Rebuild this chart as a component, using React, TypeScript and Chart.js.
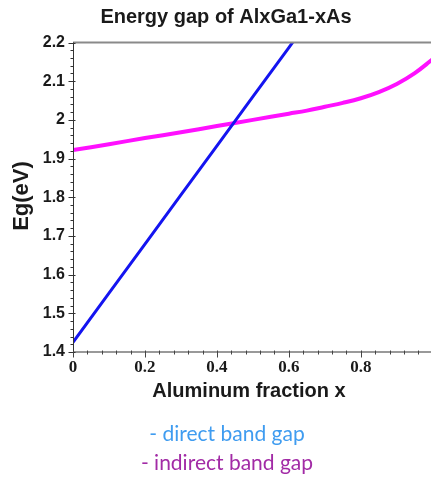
import React, { useEffect, useRef } from 'react';
import { Chart, registerables } from 'chart.js';

Chart.register(...registerables);

const TITLE = 'Energy gap of AlxGa1-xAs';
const X_TITLE = 'Aluminum fraction x';
const Y_TITLE = 'Eg(eV)';
const LEGEND_LABELS = ['- direct band gap', '- indirect band gap'];
const LEGEND_COLORS = ['#3f9cf0', '#a22ba6'];

// Direct band gap (blue)
const directX = [0, 0.1, 0.2, 0.3, 0.4, 0.5, 0.6, 0.7];
const directEg = [1.425, 1.552, 1.679, 1.806, 1.933, 2.06, 2.187, 2.314];

// Indirect band gap (magenta)
const indirectX = [0, 0.1, 0.2, 0.3, 0.4, 0.5, 0.6, 0.65, 0.7, 0.75, 0.8, 0.85, 0.9, 0.95, 1.0];
const indirectEg = [1.922, 1.937, 1.953, 1.968, 1.984, 2.0, 2.016, 2.024, 2.034, 2.044, 2.056, 2.072, 2.093, 2.121, 2.157];

const yTickValues = [1.4, 1.5, 1.6, 1.7, 1.8, 1.9, 2.0, 2.1, 2.2];
const yTickLabels = ['1.4', '1.5', '1.6', '1.7', '1.8', '1.9', '2', '2.1', '2.2'];
const xTickValues = [0, 0.2, 0.4, 0.6, 0.8];
const xTickLabels = ['0', '0.2', '0.4', '0.6', '0.8'];
const yMinorStep = 0.02;
const xMinorStep = 0.04;

const decorPlugin = {
  id: 'decor',
  afterDraw(chart: any) {
    const { ctx, chartArea: a, scales } = chart;
    const x = scales.x;
    const y = scales.y;
    ctx.save();

    // top border
    ctx.strokeStyle = '#8a8a8a';
    ctx.lineWidth = 2;
    ctx.beginPath();
    ctx.moveTo(a.left, a.top);
    ctx.lineTo(a.right, a.top);
    ctx.stroke();

    // x axis
    ctx.strokeStyle = '#777';
    ctx.lineWidth = 1.5;
    ctx.beginPath();
    ctx.moveTo(a.left, a.bottom);
    ctx.lineTo(a.right, a.bottom);
    ctx.stroke();

    // y axis
    ctx.strokeStyle = '#333';
    ctx.lineWidth = 1;
    const ax = Math.round(a.left) + 0.5;
    ctx.beginPath();
    ctx.moveTo(ax, a.top);
    ctx.lineTo(ax, a.bottom);
    ctx.stroke();

    // y minor + major ticks
    const nY = Math.round((y.max - y.min) / yMinorStep);
    for (let i = 0; i <= nY; i++) {
      const v = y.min + i * yMinorStep;
      const py = Math.round(y.getPixelForValue(v)) + 0.5;
      const major = i % 5 === 0;
      ctx.beginPath();
      ctx.moveTo(ax - (major ? 5 : 3), py);
      ctx.lineTo(ax + (major ? 2 : 0), py);
      ctx.stroke();
    }

    // x minor + major ticks
    ctx.strokeStyle = '#444';
    const bx = Math.round(a.bottom) + 0.5;
    const nX = Math.round((x.max - x.min) / xMinorStep);
    for (let i = 0; i <= nX; i++) {
      const v = x.min + i * xMinorStep;
      const px = Math.round(x.getPixelForValue(v)) + 0.5;
      const major = i % 5 === 0;
      ctx.beginPath();
      ctx.moveTo(px, bx - 2);
      ctx.lineTo(px, bx + (major ? 5 : 2));
      ctx.stroke();
    }

    // title
    ctx.fillStyle = '#1a1a1a';
    ctx.textAlign = 'center';
    ctx.textBaseline = 'alphabetic';
    ctx.font = 'bold 20px "Liberation Sans", Arial, sans-serif';
    ctx.fillText(TITLE, 226, 23);

    // x title
    ctx.fillText(X_TITLE, 249, 397);

    // y title
    ctx.save();
    ctx.translate(28, 196);
    ctx.rotate(-Math.PI / 2);
    ctx.font = 'bold 22px "Liberation Sans", Arial, sans-serif';
    ctx.fillText(Y_TITLE, 0, 0);
    ctx.restore();

    // legend
    ctx.font = '21px Lato, sans-serif';
    LEGEND_LABELS.forEach((lbl, i) => {
      ctx.fillStyle = LEGEND_COLORS[i];
      ctx.fillText(lbl, 227, 441 + i * 29);
    });

    ctx.restore();
  },
};

export default function App() {
  const ref = useRef<HTMLCanvasElement | null>(null);

  useEffect(() => {
    document.body.style.margin = '0';
    const canvas = ref.current;
    if (!canvas) return;
    const chart = new Chart(canvas, {
      type: 'line',
      data: {
        datasets: [
          {
            label: 'direct band gap',
            data: directX.map((v, i) => ({ x: v, y: directEg[i] })),
            borderColor: '#1414f0',
            borderWidth: 3,
            pointRadius: 0,
            fill: false,
          },
          {
            label: 'indirect band gap',
            data: indirectX.map((v, i) => ({ x: v, y: indirectEg[i] })),
            borderColor: '#ff10ff',
            borderWidth: 4,
            pointRadius: 0,
            fill: false,
            tension: 0.4,
          },
        ],
      },
      options: {
        responsive: false,
        animation: false,
        devicePixelRatio: 1,
        layout: { padding: { top: 42.5, left: 0, right: 0, bottom: 0 } },
        plugins: {
          legend: { display: false },
          title: { display: false },
          tooltip: { enabled: false },
        },
        scales: {
          x: {
            type: 'linear',
            min: 0,
            max: 0.995,
            border: { display: false },
            grid: { display: false, drawTicks: false },
            afterBuildTicks: (s: any) => {
              s.ticks = xTickValues.map((v) => ({ value: v }));
            },
            afterFit: (s: any) => {
              s.height = 125;
            },
            ticks: {
              autoSkip: false,
              maxRotation: 0,
              padding: 5,
              color: '#1a1a1a',
              font: { family: '"Liberation Serif", "Times New Roman", serif', weight: 'bold', size: 17 },
              callback: (_v: any, i: number) => xTickLabels[i],
            },
          },
          y: {
            type: 'linear',
            min: 1.4,
            max: 2.2,
            border: { display: false },
            grid: { display: false, drawTicks: false },
            afterBuildTicks: (s: any) => {
              s.ticks = yTickValues.map((v) => ({ value: v }));
            },
            afterFit: (s: any) => {
              s.width = 73;
            },
            ticks: {
              autoSkip: false,
              padding: 8,
              color: '#1a1a1a',
              font: { family: '"Liberation Sans", Arial, sans-serif', weight: 'bold', size: 16 },
              callback: (_v: any, i: number) => yTickLabels[i],
            },
          },
        },
      },
      plugins: [decorPlugin],
    } as any);
    return () => chart.destroy();
  }, []);

  return (
    <div style={{ width: 431, height: 477, overflow: 'hidden' }}>
      <canvas ref={ref} width={431} height={477} style={{ display: 'block' }} />
    </div>
  );
}
